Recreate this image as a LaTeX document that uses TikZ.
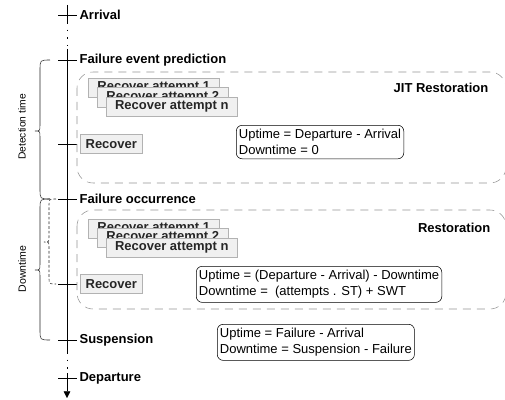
\documentclass[tikz,border=0pt]{standalone}
\usepackage{fontspec}
\setmainfont{Liberation Sans}
\usepackage{tikz}
\usetikzlibrary{arrows.meta,calc,positioning}

\begin{document}
\begin{tikzpicture}[x=0.75pt,y=-0.75pt,
  every node/.style={font=\fontsize{9.75}{12}\selectfont},
  evt/.style={anchor=west,inner sep=1pt,font=\fontsize{9.75}{12}\selectfont\bfseries},
  attempt/.style={draw=gray!60,fill=gray!12,text=black!85,anchor=north west,inner sep=0pt,
    minimum width=98.25pt,minimum height=14.25pt,font=\fontsize{9.75}{12}\selectfont\bfseries},
  formula/.style={draw,rounded corners=4.5pt,fill=white,align=left,anchor=north west,
    inner xsep=2pt,inner ysep=3pt},
  zone/.style={draw=gray!85,dash pattern=on 6pt off 4.5pt,rounded corners=12pt},
  bracket/.style={draw=black!85},
  dots/.style={dash pattern=on 1.2pt off 4.5pt}]
\useasboundingbox (0,0) rectangle (505,399);

% time line
\coordinate (top) at (67,5);
\coordinate (arr) at (67,15);
\coordinate (dot1) at (67,22);
\coordinate (dot2) at (67,49);
\coordinate (fep) at (67,60);
\coordinate (rec1) at (67,144);
\coordinate (fo) at (67,199);
\coordinate (rec2) at (67,284);
\coordinate (susp) at (67,340);
\coordinate (dot3) at (67,352);
\coordinate (dot4) at (67,373);
\coordinate (dep) at (67,378);
\coordinate (bot) at (67,398);
\draw (top) -- (dot1);
\draw[dots] (dot1) -- (dot2);
\draw (dot2) -- (dot3);
\draw[dots] (dot3) -- (dot4);
\draw[-{Triangle[width=5pt,length=5pt]}] (dot4) -- (bot);
\foreach \t in {arr,fep,rec1,fo,rec2,susp,dep}
  \draw ([xshift=-6.75pt]\t) -- ([xshift=7.5pt]\t);

\node[evt] (arrival) at ([xshift=8.25pt]arr) {Arrival};
\node[evt] (predict) at ([xshift=8.25pt]fep) {Failure event prediction};
\node[evt] (occur) at ([xshift=8.25pt]fo) {Failure occurrence};
\node[evt] (suspension) at ([xshift=8.25pt]susp) {Suspension};
\node[evt] (departure) at ([xshift=8.25pt]dep) {Departure};

% JIT restoration
\draw[zone] (77,72) rectangle (506,183);
\node[anchor=east,font=\fontsize{9.75}{12}\selectfont\bfseries] (jit) at (493,88) {JIT Restoration};
\node[attempt] (jitA) at (88,78) {Recover attempt 1};
\node[attempt] (jitB) at (97,87.5) {Recover attempt 2};
\node[attempt] (jitN) at (106,97) {Recover attempt n};
\node[attempt,anchor=west,minimum width=46.5pt] (jitRec) at (80,144) {Recover};
\node[formula] (jitF) at (236,125) {Uptime = Departure - Arrival\\Downtime = 0};

% restoration
\draw[zone] (77,210) rectangle (506,309);
\node[anchor=east,font=\fontsize{9.75}{12}\selectfont\bfseries] (rest) at (495,228) {Restoration};
\node[attempt] (resA) at (88,218.5) {Recover attempt 1};
\node[attempt] (resB) at (97,228) {Recover attempt 2};
\node[attempt] (resN) at (106,237.5) {Recover attempt n};
\node[attempt,anchor=west,minimum width=46.5pt] (resRec) at (80,284) {Recover};
\node[formula] (resF) at (196,266) {Uptime = (Departure - Arrival) - Downtime\\Downtime = \ (attempts . ST) + SWT};

\node[formula] (suspF) at (217,324) {Uptime = Failure - Arrival\\Downtime = Suspension - Failure};

% braces
\draw[bracket] (50,60) .. controls (40,60) .. (40,70) -- (40,125) .. controls (40,131) .. (35,131)
  .. controls (40,131) .. (40,137) -- (40,189) .. controls (40,199) .. (50,199);
\draw[bracket] (50,199) .. controls (40,199) .. (40,209) -- (40,264) .. controls (40,270) .. (35,270)
  .. controls (40,270) .. (40,276) -- (40,330) .. controls (40,340) .. (50,340);
\draw[bracket,dash pattern=on 2pt off 1.5pt] (56,199) .. controls (49,199) .. (49,206) -- (49,237)
  .. controls (49,242) .. (44,242) .. controls (49,242) .. (49,247) -- (49,277) .. controls (49,284) .. (56,284);
\node[rotate=90,font=\fontsize{7.7}{9}\selectfont] (dlabel) at (22,127) {Detection time};
\node[rotate=90,font=\fontsize{7.9}{9}\selectfont] (wlabel) at (22,269) {Downtime};
\end{tikzpicture}
\end{document}
